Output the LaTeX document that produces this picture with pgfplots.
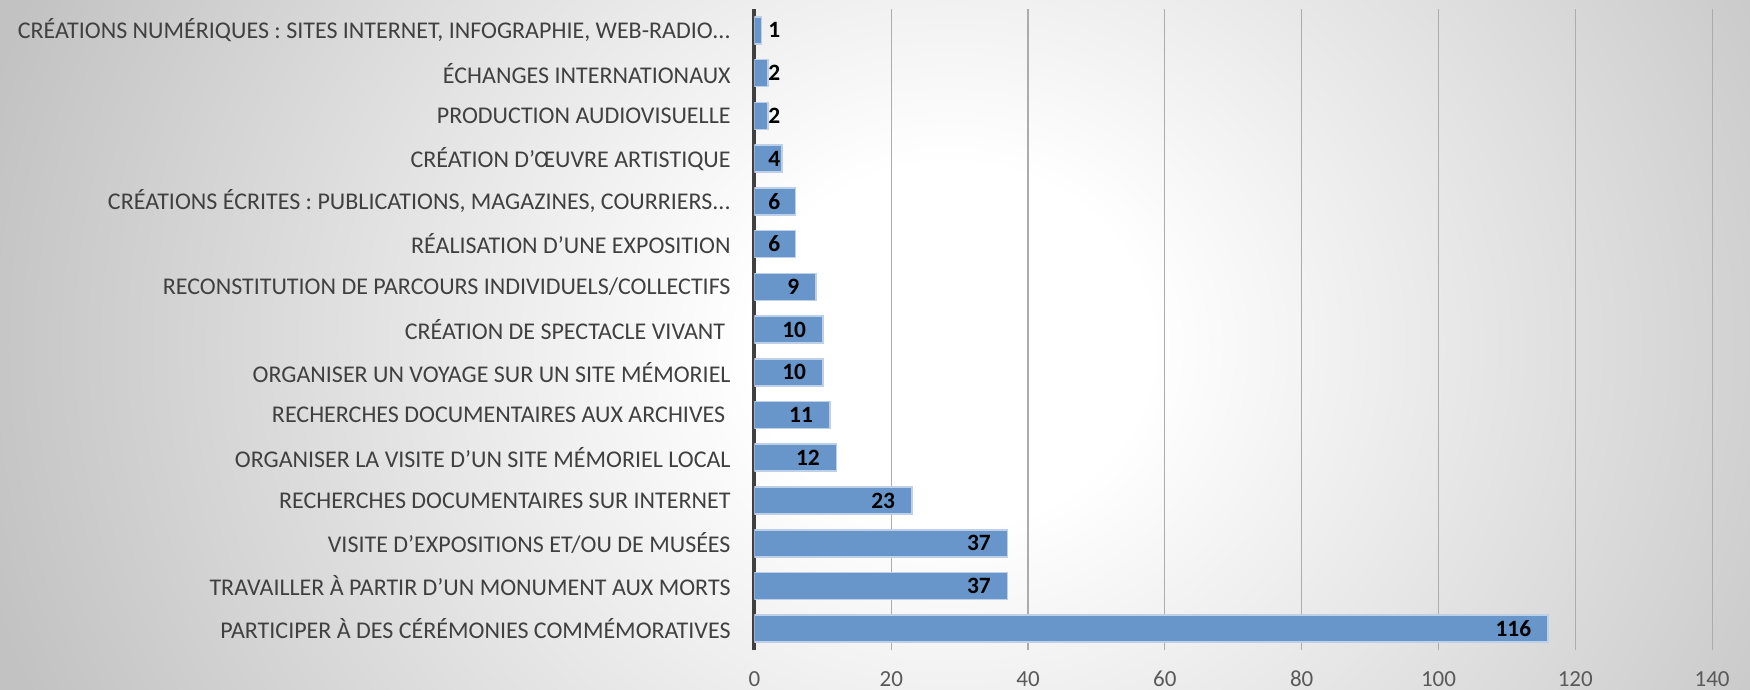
\documentclass[border=0pt]{standalone}
\usepackage{pgfplots}
\pgfplotsset{compat=1.18}
\usepackage{fontspec}
\setmainfont{Carlito}
\usetikzlibrary{backgrounds}
\definecolor{bggray}{RGB}{194,194,194}
\definecolor{barblue}{RGB}{104,150,202}
\definecolor{baredge}{RGB}{190,208,232}
\definecolor{labgray}{RGB}{64,64,64}
\definecolor{tickgray}{RGB}{89,89,89}
\definecolor{gridgray}{RGB}{172,172,172}
\pgfdeclareradialshading{bgshade}{\pgfpointorigin}{color(0bp)=(white); color(5bp)=(white); color(25bp)=(bggray); color(50bp)=(bggray)}
\newcommand{\dd}{.\kern0pt.\kern0pt.}
\begin{document}
\begin{tikzpicture}
\begin{axis}[
  xbar,
  x=3.42pt, y=21.37pt,
  xmin=0, xmax=140,
  ymin=-0.5, ymax=14.5,
  bar width=13.5pt,
  axis x line*=bottom, axis y line*=left,
  x axis line style={draw=none},
  y axis line style={draw=labgray, line width=2pt},
  xmajorgrids, major grid style={draw=gridgray, line width=0.6pt},
  xtick={0,20,40,60,80,100,120,140},
  ytick={0,1,2,3,4,5,6,7,8,9,10,11,12,13,14},
  major tick length=0pt,
  tick style={draw=none},
  /pgf/number format/assume math mode=true,
  xticklabel style={font=\fontsize{11.5}{14}\selectfont, text=tickgray, anchor=base, inner sep=0pt, yshift=-18pt},
  yticklabel style={font=\fontsize{12}{14}\selectfont, text=labgray, anchor=east, inner sep=0pt, xshift=-11.75pt},
  yticklabels={
    PARTICIPER À DES CÉRÉMONIES COMMÉMORATIVES,
    TRAVAILLER À PARTIR D’UN MONUMENT AUX MORTS,
    VISITE D’EXPOSITIONS ET/OU DE MUSÉES,
    RECHERCHES DOCUMENTAIRES SUR INTERNET,
    ORGANISER LA VISITE D’UN SITE MÉMORIEL LOCAL,
    RECHERCHES DOCUMENTAIRES AUX ARCHIVES\ \null,
    ORGANISER UN VOYAGE SUR UN SITE MÉMORIEL,
    CRÉATION DE SPECTACLE VIVANT\ \null,
    RECONSTITUTION DE PARCOURS INDIVIDUELS/COLLECTIFS,
    RÉALISATION D’UNE EXPOSITION,
    {CRÉATIONS ÉCRITES : PUBLICATIONS, MAGAZINES, COURRIERS\dd},
    CRÉATION D’ŒUVRE ARTISTIQUE,
    PRODUCTION AUDIOVISUELLE,
    ÉCHANGES INTERNATIONAUX,
    {CRÉATIONS NUMÉRIQUES : SITES INTERNET, INFOGRAPHIE, WEB-RADIO\dd}
  },
  nodes near coords,
  point meta=rawx,
  visualization depends on={rawx \as \rawx},
  every node near coord/.append style={
    anchor=east, inner sep=0pt, text=black,
    font=\fontsize{11.7}{14}\selectfont\bfseries,
    xshift={max(13.25-3.42*\rawx,-8)}
  },
]
\addplot[fill=barblue, draw=baredge, line width=0.8pt] coordinates {
  (116,0) (37,1) (37,2) (23,3) (12,4) (11,5) (10,6) (10,7)
  (9,8) (6,9) (6,10) (4,11) (2,12) (2,13) (1,14)
};
\coordinate (sw) at (rel axis cs:0,0);
\coordinate (ne) at (rel axis cs:1,1);
\end{axis}
\coordinate (P) at ([shift={(-377.25pt,-19.95pt)}]sw);
\coordinate (Q) at ([shift={(875pt,345pt)}]P);
\begin{scope}[on background layer]
  \clip (P) rectangle (Q);
  \fill[bggray] (P) rectangle (Q);
  \shade[shading=bgshade] ([shift={(475pt,172.5pt)}]P) ellipse (500pt and 450pt);
\end{scope}
\pgfresetboundingbox
\useasboundingbox (P) rectangle (Q);
\end{tikzpicture}
\end{document}
